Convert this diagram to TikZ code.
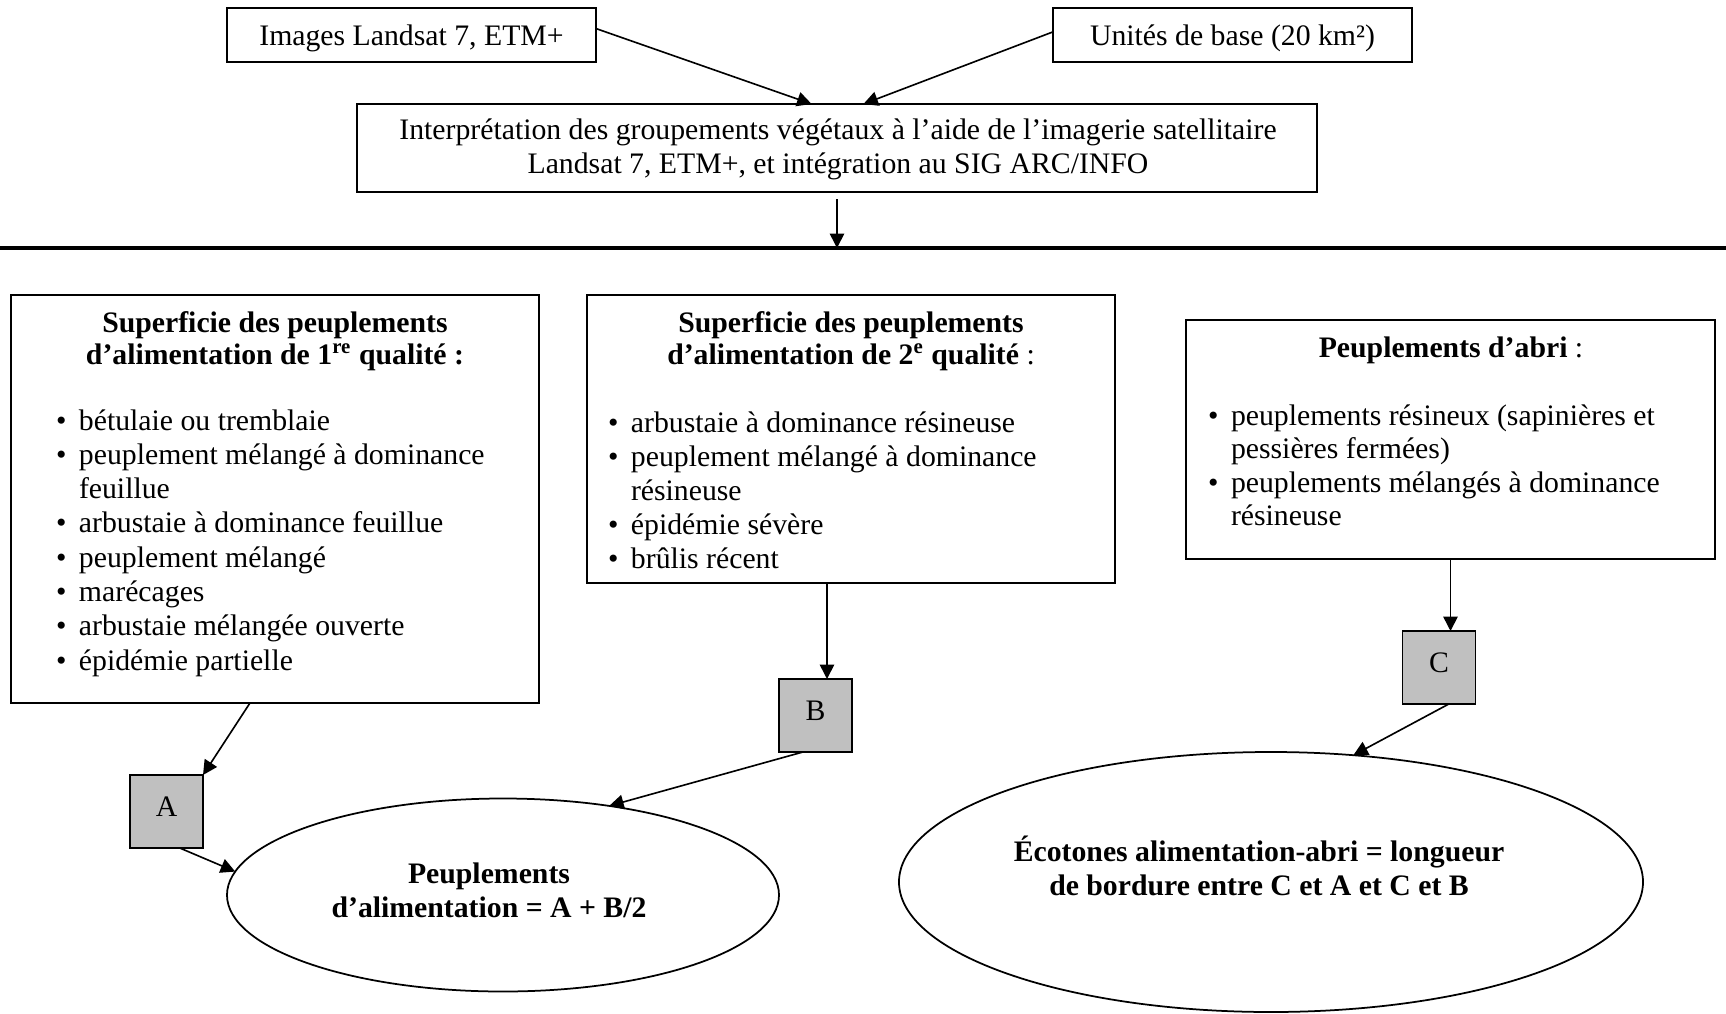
\documentclass[tikz,border=0pt]{standalone}
\usepackage{fontspec}
\setmainfont{Liberation Serif}
\usetikzlibrary{arrows.meta,calc,shapes.geometric}
\definecolor{sqgrey}{HTML}{C0C0C0}
\newcommand\bul{\llap{\textbullet\hspace{5pt}}}
\begin{document}
\begin{tikzpicture}[x=0.4pt,y=-0.4pt,
  every node/.style={font=\fontsize{11.9pt}{13.7pt}\selectfont, inner sep=0pt, outer sep=0pt},
  box/.style={draw, line width=0.7pt, rectangle},
  sq/.style={draw, line width=0.7pt, fill=sqgrey, minimum width=29.2pt, minimum height=29.2pt, text depth=3.8pt},
  ell/.style={draw, line width=0.7pt, ellipse},
  arr/.style={line width=0.65pt, -{Triangle[length=5.8pt,width=5.8pt]}},
  ln/.style={anchor=base west},
  tl/.style={anchor=base}
]
\useasboundingbox (0,0) rectangle (1726,1013);

% top boxes
\node[box, minimum width=147.6pt, minimum height=21.6pt, text height=10.8pt, text depth=2.6pt] (b1) at (411.5,35) {Images Landsat 7, ETM+};
\node[box, minimum width=143.6pt, minimum height=21.6pt, text height=10.8pt, text depth=2.6pt] (b2) at (1232.5,35) {Unités de base (20 km²)};
\node[box, minimum width=384pt, minimum height=35.2pt] (b3) at (837,148) {};
\node[align=center] (b3t) at (838,149)
  {Interprétation des groupements végétaux à l’aide de l’imagerie satellitaire\\Landsat 7, ETM+, et intégration au SIG ARC/INFO};

\draw[arr] (b1.2) -- (b3.120);
\draw[arr] (b2.179) -- (b3.59.4);

% separator line
\coordinate (hlL) at (0,248);
\coordinate (hlR) at (1726,248);
\draw[line width=1.4pt] (hlL) -- (hlR);
\draw[arr, shorten <=2.8pt] (b3.south) -- (b3.south |- hlL);

% list boxes
\node[box, minimum width=211.2pt, minimum height=163.2pt] (b4) at (275,499) {};
\node[box, minimum width=211.2pt, minimum height=115.2pt] (b5) at (851,439) {};
\node[box, minimum width=211.6pt, minimum height=95.6pt] (b6) at (1450.5,439.5) {};

\node[tl] (b4t1) at (275,332) {\textbf{Superficie des peuplements}};
\node[tl] (b4t2) at (275,364) {\textbf{d’alimentation de 1\textsuperscript{re} qualité :}};
\node[tl] (b5t1) at (851,332) {\textbf{Superficie des peuplements}};
\node[tl] (b5t2) at (851,364) {\textbf{d’alimentation de 2\textsuperscript{e} qualité} :};
\node[tl] (b6t1) at (1451,357) {\textbf{Peuplements d’abri} :};

\foreach \ltxt [count=\i] in {\bul bétulaie ou tremblaie, \bul peuplement mélangé à dominance, feuillue, \bul arbustaie à dominance feuillue, \bul peuplement mélangé, \bul marécages, \bul arbustaie mélangée ouverte, \bul épidémie partielle}
  {\node[ln] (b4l\i) at (79,{430+34.3*(\i-1)}) {\ltxt};}

\foreach \ltxt [count=\i] in {\bul arbustaie à dominance résineuse, \bul peuplement mélangé à dominance, résineuse, \bul épidémie sévère, \bul brûlis récent}
  {\node[ln] (b5l\i) at (631,{432+34*(\i-1)}) {\ltxt};}

\foreach \ltxt [count=\i] in {\bul peuplements résineux (sapinières et, pessières fermées), \bul peuplements mélangés à dominance, résineuse}
  {\node[ln] (b6l\i) at (1231,{425+33.5*(\i-1)}) {\ltxt};}

% squares
\node[sq] (A) at (166.5,811.5) {A};
\node[sq] (B) at (815.5,715.5) {B};
\node[sq] (C) at (1439,667.5) {C};

% ellipses
\node[ell, minimum width=220.8pt, minimum height=77.2pt] (e1) at (503,895) {};
\node[ell, minimum width=297.6pt, minimum height=104pt] (e2) at (1271,882) {};
\node[align=center, font=\fontsize{11.9pt}{13.7pt}\selectfont\bfseries] (e1t) at (489,890)
  {Peuplements\\d’alimentation = A + B/2};
\node[align=center, font=\fontsize{11.9pt}{13.7pt}\selectfont\bfseries] (e2t) at (1259,866)
  {Écotones alimentation-abri = longueur\\de bordure entre C et A et C et B};

% arrows to squares
\draw[arr] (b4.-97) -- (A.north east);
\path ($(B.north)+(11.5,0)$) coordinate (Bt);
\draw[arr] (b5.south -| Bt) -- (Bt);
\draw[arr] (b6.south) -- (b6.south |- C.north);

% arrows to ellipses
\draw[arr] (A.-70) -- (e1.175);
\draw[arr] (B.-109) -- (e1.40);
\draw[arr] (C.-75) -- (e2.57);
\end{tikzpicture}
\end{document}
